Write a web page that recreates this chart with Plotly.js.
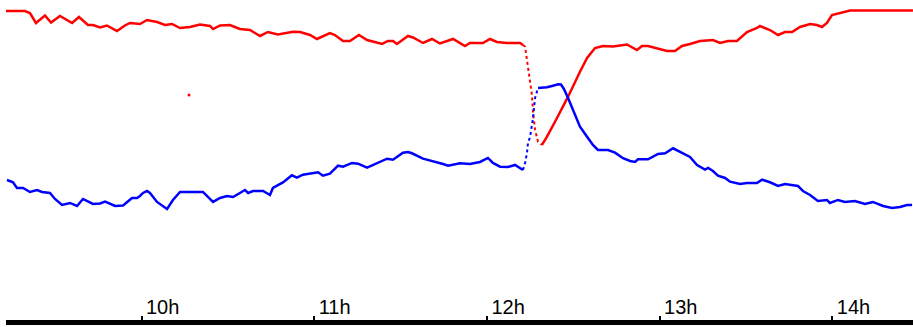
<!DOCTYPE html>
<html>
<head>
<meta charset="utf-8">
<script src="https://cdn.plot.ly/plotly-3.0.1.min.js"></script>
<style>
  html, body { margin: 0; padding: 0; background: #fff; }
  #chart { width: 913px; height: 327px; }
</style>
</head>
<body>
<div id="chart"></div>
<script>
// Time in decimal hours
const redTime = [9.215,9.325,9.354,9.389,9.441,9.476,9.528,9.598,9.638,9.690,9.719,9.760,9.800,9.858,9.904,9.933,9.991,10.032,10.090,10.136,10.177,10.223,10.281,10.339,10.397,10.414,10.455,10.512,10.570,10.628,10.686,10.732,10.790,10.831,10.877,10.918,10.976,11.016,11.091,11.120,11.167,11.207,11.259,11.306,11.352,11.393,11.427,11.456,11.479,11.543,11.572,11.630,11.682,11.728,11.804,11.873,11.902,11.977,12.018,12.058,12.116,12.192,12.209,
  12.221,12.232,12.244,12.261,12.267,12.279,12.296,12.319,
  12.348,12.406,12.470,12.539,12.580,12.626,12.672,12.730,12.811,12.869,12.898,12.933,13.002,13.043,13.089,13.130,13.176,13.234,13.309,13.350,13.396,13.448,13.506,13.564,13.581,13.639,13.686,13.726,13.767,13.813,13.871,13.911,13.940,13.969,13.998,14.045,14.085,14.103,14.467];
const redValue = [96.58,96.58,95.96,92.86,95.19,93.01,95.03,92.86,94.72,92.24,92.24,91.46,92.08,90.37,92.08,92.86,92.55,93.79,93.17,92.24,92.55,91.30,91.61,92.39,91.93,90.99,92.08,92.24,90.99,90.68,88.82,90.06,89.29,89.75,90.16,90.06,89.13,87.89,89.75,89.13,87.27,87.27,89.13,87.58,86.96,86.34,87.27,87.27,86.34,88.82,88.35,86.65,87.89,86.49,87.89,85.71,86.65,86.65,87.89,86.96,86.65,86.65,86.02,
  85.50,81.37,76.18,70.50,64.91,59.63,55.99,54.97,
  57.55,63.35,69.97,77.73,81.99,85.09,85.71,85.56,86.18,84.47,85.71,85.71,84.78,84.16,84.16,85.71,86.34,87.27,87.58,86.65,87.27,87.27,90.06,91.30,91.93,90.68,89.13,90.06,90.06,91.61,92.55,92.24,91.61,92.86,95.34,95.96,96.58,96.74,96.74];

const blueTime = [9.221,9.256,9.279,9.314,9.354,9.395,9.424,9.470,9.499,9.540,9.586,9.627,9.661,9.719,9.760,9.789,9.847,9.893,9.945,9.974,9.991,10.009,10.032,10.049,10.090,10.148,10.182,10.223,10.281,10.356,10.414,10.455,10.495,10.530,10.570,10.599,10.617,10.646,10.704,10.744,10.761,10.819,10.871,10.900,10.935,10.993,11.022,11.051,11.091,11.138,11.167,11.219,11.254,11.306,11.364,11.422,11.456,11.514,11.543,11.566,11.630,11.688,11.746,11.775,11.844,11.902,11.960,12.006,12.035,12.076,12.122,12.163,12.209,
  12.221,12.232,12.238,12.250,12.267,12.279,12.290,12.296,
  12.348,12.383,12.412,12.429,12.446,12.470,12.510,12.539,12.580,12.614,12.643,12.701,12.742,12.788,12.829,12.858,12.875,12.933,12.991,13.032,13.078,13.118,13.176,13.217,13.263,13.281,13.309,13.338,13.379,13.408,13.466,13.506,13.564,13.593,13.639,13.686,13.726,13.801,13.830,13.871,13.917,13.969,13.986,14.033,14.073,14.131,14.189,14.235,14.294,14.346,14.392,14.433,14.462];
const blueValue = [44.10,43.39,41.61,41.61,40.37,40.99,40.37,40.06,38.20,36.34,36.96,36.03,38.20,36.65,36.80,37.36,36.03,36.18,38.51,38.51,39.13,40.06,40.68,40.06,37.27,35.09,37.89,40.37,40.37,40.37,37.27,38.51,39.13,38.82,40.06,40.99,40.06,40.68,40.68,39.44,41.61,43.32,45.56,44.81,45.75,46.37,46.49,45.43,46.06,48.54,48.23,49.38,49.16,47.92,49.38,50.71,50.40,52.58,52.80,52.39,50.71,50.00,49.07,48.54,49.29,49.07,49.69,50.93,49.38,48.23,48.14,48.76,47.20,
  49.38,52.48,55.59,57.45,63.35,69.57,72.05,72.67,
  72.89,73.39,73.82,73.76,72.36,69.57,64.29,60.65,57.55,54.97,53.42,53.42,52.58,50.84,50.00,49.69,50.53,50.53,52.17,52.39,53.94,52.80,51.24,48.76,47.30,47.83,46.89,45.43,44.72,43.57,42.86,43.17,43.17,44.19,43.39,42.24,42.86,42.24,40.68,39.44,37.58,37.89,36.96,37.89,37.27,37.58,36.65,37.27,36.03,35.40,35.71,36.34,36.34];

// isolated red reading
const strayTime = [10.275];
const strayValue = [70.5];

const tickHours = [10, 11, 12, 13, 14];
const tickLabels = ['10h', '11h', '12h', '13h', '14h'];

// index ranges of the fast (sparsely sampled) transition
const redFast = [62, 70];
const blueFast = [72, 80];

function seg(t, v, a, b, color, dash, width) {
  return {
    x: t.slice(a, b + 1), y: v.slice(a, b + 1),
    type: 'scatter', mode: 'lines',
    line: { color: color, width: width, dash: dash },
    hoverinfo: 'skip', showlegend: false
  };
}

const traces = [
  seg(redTime, redValue, 0, redFast[0], '#ff0000', 'solid', 2.5),
  seg(redTime, redValue, redFast[0], redFast[1], '#ff0000', 'dot', 2),
  seg(redTime, redValue, redFast[1], redTime.length - 1, '#ff0000', 'solid', 2.5),
  seg(blueTime, blueValue, 0, blueFast[0], '#0000ff', 'solid', 2.5),
  seg(blueTime, blueValue, blueFast[0], blueFast[1], '#0000ff', 'dot', 2),
  seg(blueTime, blueValue, blueFast[1], blueTime.length - 1, '#0000ff', 'solid', 2.5),
  { x: strayTime, y: strayValue, type: 'scatter', mode: 'markers',
    marker: { color: '#ff0000', size: 3 }, showlegend: false, hoverinfo: 'skip' }
];

const layout = {
  width: 913, height: 327,
  margin: { l: 6, r: 0, t: 0, b: 7, pad: 0 },
  paper_bgcolor: '#ffffff', plot_bgcolor: '#ffffff',
  showlegend: false,
  xaxis: {
    range: [9.2154, 14.4673],
    tickvals: tickHours, ticktext: tickLabels,
    showgrid: false, zeroline: false,
    showline: true, linecolor: '#000000', linewidth: 5,
    ticks: 'inside', ticklen: 4, tickwidth: 2, tickcolor: '#000000',
    ticklabelposition: 'inside right',
    ticklabelshift: 1,
    tickfont: { family: 'Liberation Sans, Arial, sans-serif', size: 20, color: '#000000' },
    fixedrange: true
  },
  yaxis: {
    range: [0.6, 100],
    visible: false, showgrid: false, zeroline: false, fixedrange: true
  }
};

Plotly.newPlot('chart', traces, layout, { displayModeBar: false, staticPlot: true });
</script>
</body>
</html>
